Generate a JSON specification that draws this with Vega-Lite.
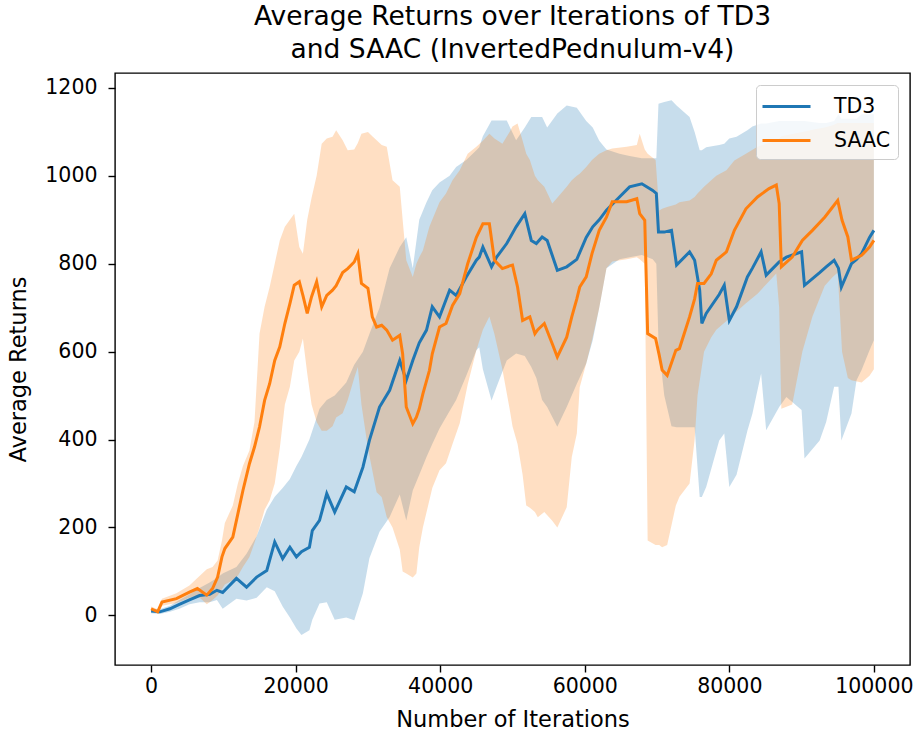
{
  "$schema": "https://vega.github.io/schema/vega-lite/v6.json",
  "autosize": "none",
  "width": 795,
  "height": 592,
  "padding": {"left": 115, "top": 73, "right": 9, "bottom": 71},
  "background": "white",
  "title": {
    "text": ["Average Returns over Iterations of TD3", "and SAAC (InvertedPednulum-v4)"],
    "font": "DejaVu Sans",
    "fontSize": 26.5,
    "fontWeight": "normal",
    "color": "#000000",
    "lineHeight": 33,
    "offset": 10,
    "anchor": "middle",
    "frame": "group"
  },
  "config": {
    "view": {"stroke": "#000000", "strokeWidth": 1.4},
    "axis": {
      "domain": false,
      "grid": false,
      "ticks": true,
      "tickColor": "#000000",
      "tickWidth": 1.4,
      "tickSize": 7,
      "labelFont": "DejaVu Sans",
      "labelFontSize": 20.5,
      "labelColor": "#000000",
      "titleFont": "DejaVu Sans",
      "titleFontSize": 22.5,
      "titleFontWeight": "normal",
      "titleColor": "#000000"
    }
  },
  "datasets": {
    "runs": [
      {"s": "TD3", "x": 0, "m": 10, "lo": 5, "hi": 15},
      {"s": "TD3", "x": 1200, "m": 8, "lo": 3, "hi": 14},
      {"s": "TD3", "x": 2600, "m": 15, "lo": 8, "hi": 22},
      {"s": "TD3", "x": 3900, "m": 25, "lo": 15, "hi": 35},
      {"s": "TD3", "x": 5300, "m": 35, "lo": 25, "hi": 48},
      {"s": "TD3", "x": 6700, "m": 45, "lo": 30, "hi": 62},
      {"s": "TD3", "x": 8100, "m": 48, "lo": 30, "hi": 75},
      {"s": "TD3", "x": 9100, "m": 57, "lo": 35, "hi": 85},
      {"s": "TD3", "x": 9900, "m": 52, "lo": 15, "hi": 95},
      {"s": "TD3", "x": 11800, "m": 84, "lo": 38, "hi": 110},
      {"s": "TD3", "x": 13200, "m": 64, "lo": 34, "hi": 140},
      {"s": "TD3", "x": 14600, "m": 87, "lo": 40, "hi": 180},
      {"s": "TD3", "x": 16000, "m": 102, "lo": 64, "hi": 240},
      {"s": "TD3", "x": 17100, "m": 167, "lo": 55, "hi": 270},
      {"s": "TD3", "x": 18200, "m": 129, "lo": 20, "hi": 290},
      {"s": "TD3", "x": 19200, "m": 155, "lo": -5, "hi": 310},
      {"s": "TD3", "x": 20100, "m": 133, "lo": -30, "hi": 340},
      {"s": "TD3", "x": 20800, "m": 145, "lo": -45, "hi": 360},
      {"s": "TD3", "x": 21900, "m": 155, "lo": -34, "hi": 400},
      {"s": "TD3", "x": 22300, "m": 193, "lo": -10, "hi": 420},
      {"s": "TD3", "x": 23300, "m": 216, "lo": 27, "hi": 470},
      {"s": "TD3", "x": 24300, "m": 277, "lo": 30, "hi": 490},
      {"s": "TD3", "x": 25400, "m": 235, "lo": -10, "hi": 500},
      {"s": "TD3", "x": 27000, "m": 292, "lo": -5, "hi": 530},
      {"s": "TD3", "x": 28100, "m": 281, "lo": -11, "hi": 570},
      {"s": "TD3", "x": 29300, "m": 337, "lo": 50, "hi": 600},
      {"s": "TD3", "x": 30200, "m": 398, "lo": 130, "hi": 640},
      {"s": "TD3", "x": 31600, "m": 474, "lo": 190, "hi": 700},
      {"s": "TD3", "x": 33000, "m": 512, "lo": 224, "hi": 790},
      {"s": "TD3", "x": 34400, "m": 580, "lo": 275, "hi": 838},
      {"s": "TD3", "x": 35300, "m": 535, "lo": 216, "hi": 860},
      {"s": "TD3", "x": 36200, "m": 580, "lo": 284, "hi": 790},
      {"s": "TD3", "x": 37100, "m": 620, "lo": 320, "hi": 900},
      {"s": "TD3", "x": 38100, "m": 649, "lo": 360, "hi": 940},
      {"s": "TD3", "x": 38900, "m": 702, "lo": 390, "hi": 967},
      {"s": "TD3", "x": 39900, "m": 679, "lo": 425, "hi": 985},
      {"s": "TD3", "x": 41300, "m": 740, "lo": 465, "hi": 1000},
      {"s": "TD3", "x": 42200, "m": 728, "lo": 490, "hi": 1020},
      {"s": "TD3", "x": 43600, "m": 770, "lo": 545, "hi": 1036},
      {"s": "TD3", "x": 45000, "m": 808, "lo": 603, "hi": 1058},
      {"s": "TD3", "x": 45400, "m": 815, "lo": 610, "hi": 1065},
      {"s": "TD3", "x": 45900, "m": 838, "lo": 560, "hi": 1090},
      {"s": "TD3", "x": 47100, "m": 793, "lo": 489, "hi": 1126},
      {"s": "TD3", "x": 47800, "m": 815, "lo": 520, "hi": 1126},
      {"s": "TD3", "x": 49200, "m": 846, "lo": 580, "hi": 1126},
      {"s": "TD3", "x": 50500, "m": 884, "lo": 596, "hi": 1081},
      {"s": "TD3", "x": 51700, "m": 914, "lo": 590, "hi": 1110},
      {"s": "TD3", "x": 52600, "m": 853, "lo": 565, "hi": 1134},
      {"s": "TD3", "x": 53300, "m": 846, "lo": 540, "hi": 1134},
      {"s": "TD3", "x": 54100, "m": 861, "lo": 490, "hi": 1134},
      {"s": "TD3", "x": 54800, "m": 853, "lo": 474, "hi": 1110},
      {"s": "TD3", "x": 56200, "m": 785, "lo": 429, "hi": 1142},
      {"s": "TD3", "x": 57500, "m": 793, "lo": 474, "hi": 1160},
      {"s": "TD3", "x": 58900, "m": 810, "lo": 527, "hi": 1155},
      {"s": "TD3", "x": 60200, "m": 860, "lo": 573, "hi": 1125},
      {"s": "TD3", "x": 61100, "m": 884, "lo": 626, "hi": 1110},
      {"s": "TD3", "x": 62000, "m": 900, "lo": 700, "hi": 1080},
      {"s": "TD3", "x": 63000, "m": 922, "lo": 790, "hi": 1060},
      {"s": "TD3", "x": 64800, "m": 952, "lo": 810, "hi": 1050},
      {"s": "TD3", "x": 66200, "m": 975, "lo": 815, "hi": 1045},
      {"s": "TD3", "x": 67900, "m": 982, "lo": 820, "hi": 1040},
      {"s": "TD3", "x": 69400, "m": 967, "lo": 810, "hi": 1040},
      {"s": "TD3", "x": 69900, "m": 960, "lo": 800, "hi": 1040},
      {"s": "TD3", "x": 70200, "m": 872, "lo": 620, "hi": 1164},
      {"s": "TD3", "x": 71000, "m": 872, "lo": 500, "hi": 1168},
      {"s": "TD3", "x": 72000, "m": 876, "lo": 430, "hi": 1172},
      {"s": "TD3", "x": 72700, "m": 797, "lo": 428, "hi": 1160},
      {"s": "TD3", "x": 74500, "m": 827, "lo": 428, "hi": 1134},
      {"s": "TD3", "x": 75200, "m": 808, "lo": 428, "hi": 1100},
      {"s": "TD3", "x": 75900, "m": 740, "lo": 269, "hi": 1058},
      {"s": "TD3", "x": 76200, "m": 664, "lo": 269, "hi": 1058},
      {"s": "TD3", "x": 76800, "m": 687, "lo": 292, "hi": 1065},
      {"s": "TD3", "x": 78600, "m": 730, "lo": 398, "hi": 1070},
      {"s": "TD3", "x": 79300, "m": 751, "lo": 414, "hi": 1073},
      {"s": "TD3", "x": 80000, "m": 671, "lo": 292, "hi": 1085},
      {"s": "TD3", "x": 81000, "m": 702, "lo": 320, "hi": 1089},
      {"s": "TD3", "x": 82500, "m": 770, "lo": 420, "hi": 1104},
      {"s": "TD3", "x": 83200, "m": 790, "lo": 459, "hi": 1112},
      {"s": "TD3", "x": 84400, "m": 827, "lo": 550, "hi": 1119},
      {"s": "TD3", "x": 85100, "m": 774, "lo": 421, "hi": 1119},
      {"s": "TD3", "x": 86900, "m": 804, "lo": 474, "hi": 1125},
      {"s": "TD3", "x": 87900, "m": 815, "lo": 497, "hi": 1125},
      {"s": "TD3", "x": 90000, "m": 827, "lo": 467, "hi": 1125},
      {"s": "TD3", "x": 90400, "m": 751, "lo": 357, "hi": 1125},
      {"s": "TD3", "x": 92500, "m": 780, "lo": 398, "hi": 1120},
      {"s": "TD3", "x": 93400, "m": 793, "lo": 440, "hi": 1120},
      {"s": "TD3", "x": 94500, "m": 808, "lo": 520, "hi": 1125},
      {"s": "TD3", "x": 95100, "m": 790, "lo": 520, "hi": 1140},
      {"s": "TD3", "x": 95500, "m": 747, "lo": 398, "hi": 1130},
      {"s": "TD3", "x": 96900, "m": 800, "lo": 459, "hi": 1130},
      {"s": "TD3", "x": 97600, "m": 810, "lo": 535, "hi": 1130},
      {"s": "TD3", "x": 98300, "m": 823, "lo": 558, "hi": 1140},
      {"s": "TD3", "x": 99400, "m": 860, "lo": 603, "hi": 1140},
      {"s": "TD3", "x": 100000, "m": 876, "lo": 626, "hi": 1140},
      {"s": "SAAC", "x": 0, "m": 15, "lo": 10, "hi": 20},
      {"s": "SAAC", "x": 900, "m": 8, "lo": 4, "hi": 14},
      {"s": "SAAC", "x": 1500, "m": 30, "lo": 22, "hi": 38},
      {"s": "SAAC", "x": 3500, "m": 38, "lo": 28, "hi": 50},
      {"s": "SAAC", "x": 5300, "m": 53, "lo": 40, "hi": 68},
      {"s": "SAAC", "x": 6400, "m": 61, "lo": 45, "hi": 85},
      {"s": "SAAC", "x": 7700, "m": 46, "lo": 25, "hi": 105},
      {"s": "SAAC", "x": 8500, "m": 61, "lo": 35, "hi": 110},
      {"s": "SAAC", "x": 9200, "m": 87, "lo": 45, "hi": 125},
      {"s": "SAAC", "x": 9800, "m": 133, "lo": 60, "hi": 170},
      {"s": "SAAC", "x": 10200, "m": 152, "lo": 70, "hi": 210},
      {"s": "SAAC", "x": 11300, "m": 178, "lo": 80, "hi": 250},
      {"s": "SAAC", "x": 12000, "m": 231, "lo": 90, "hi": 300},
      {"s": "SAAC", "x": 12700, "m": 284, "lo": 110, "hi": 340},
      {"s": "SAAC", "x": 13600, "m": 345, "lo": 133, "hi": 375},
      {"s": "SAAC", "x": 14300, "m": 383, "lo": 165, "hi": 440},
      {"s": "SAAC", "x": 15000, "m": 429, "lo": 200, "hi": 641},
      {"s": "SAAC", "x": 15700, "m": 489, "lo": 240, "hi": 702},
      {"s": "SAAC", "x": 16400, "m": 527, "lo": 262, "hi": 747},
      {"s": "SAAC", "x": 17100, "m": 580, "lo": 300, "hi": 800},
      {"s": "SAAC", "x": 17800, "m": 611, "lo": 380, "hi": 853},
      {"s": "SAAC", "x": 18500, "m": 664, "lo": 480, "hi": 884},
      {"s": "SAAC", "x": 19200, "m": 709, "lo": 520, "hi": 900},
      {"s": "SAAC", "x": 19800, "m": 751, "lo": 580, "hi": 914},
      {"s": "SAAC", "x": 20500, "m": 759, "lo": 600, "hi": 838},
      {"s": "SAAC", "x": 21000, "m": 728, "lo": 630, "hi": 823},
      {"s": "SAAC", "x": 21600, "m": 687, "lo": 550, "hi": 900},
      {"s": "SAAC", "x": 22200, "m": 725, "lo": 480, "hi": 950},
      {"s": "SAAC", "x": 22900, "m": 759, "lo": 440, "hi": 1000},
      {"s": "SAAC", "x": 23600, "m": 702, "lo": 420, "hi": 1073},
      {"s": "SAAC", "x": 24300, "m": 728, "lo": 420, "hi": 1085},
      {"s": "SAAC", "x": 25100, "m": 740, "lo": 430, "hi": 1089},
      {"s": "SAAC", "x": 25600, "m": 750, "lo": 450, "hi": 1104},
      {"s": "SAAC", "x": 26500, "m": 780, "lo": 460, "hi": 1081},
      {"s": "SAAC", "x": 27200, "m": 789, "lo": 490, "hi": 1058},
      {"s": "SAAC", "x": 28100, "m": 804, "lo": 540, "hi": 1060},
      {"s": "SAAC", "x": 28600, "m": 823, "lo": 565, "hi": 1075},
      {"s": "SAAC", "x": 29100, "m": 755, "lo": 480, "hi": 1096},
      {"s": "SAAC", "x": 30000, "m": 744, "lo": 380, "hi": 1100},
      {"s": "SAAC", "x": 30600, "m": 679, "lo": 330, "hi": 1090},
      {"s": "SAAC", "x": 31200, "m": 656, "lo": 280, "hi": 1081},
      {"s": "SAAC", "x": 31900, "m": 660, "lo": 269, "hi": 1070},
      {"s": "SAAC", "x": 32600, "m": 649, "lo": 224, "hi": 1066},
      {"s": "SAAC", "x": 33400, "m": 626, "lo": 200, "hi": 990},
      {"s": "SAAC", "x": 34400, "m": 637, "lo": 150, "hi": 975},
      {"s": "SAAC", "x": 34800, "m": 595, "lo": 100, "hi": 900},
      {"s": "SAAC", "x": 35300, "m": 474, "lo": 95, "hi": 808},
      {"s": "SAAC", "x": 36200, "m": 436, "lo": 86, "hi": 770},
      {"s": "SAAC", "x": 36700, "m": 451, "lo": 95, "hi": 800},
      {"s": "SAAC", "x": 37100, "m": 470, "lo": 155, "hi": 815},
      {"s": "SAAC", "x": 37600, "m": 504, "lo": 200, "hi": 830},
      {"s": "SAAC", "x": 38500, "m": 557, "lo": 262, "hi": 884},
      {"s": "SAAC", "x": 38900, "m": 595, "lo": 290, "hi": 900},
      {"s": "SAAC", "x": 39900, "m": 656, "lo": 330, "hi": 940},
      {"s": "SAAC", "x": 40800, "m": 664, "lo": 346, "hi": 960},
      {"s": "SAAC", "x": 41700, "m": 705, "lo": 390, "hi": 990},
      {"s": "SAAC", "x": 42700, "m": 732, "lo": 437, "hi": 1013},
      {"s": "SAAC", "x": 43800, "m": 800, "lo": 525, "hi": 1050},
      {"s": "SAAC", "x": 45000, "m": 860, "lo": 603, "hi": 1066},
      {"s": "SAAC", "x": 45900, "m": 891, "lo": 650, "hi": 1080},
      {"s": "SAAC", "x": 46800, "m": 891, "lo": 680, "hi": 1096},
      {"s": "SAAC", "x": 47500, "m": 808, "lo": 640, "hi": 1085},
      {"s": "SAAC", "x": 48600, "m": 789, "lo": 560, "hi": 1073},
      {"s": "SAAC", "x": 49600, "m": 795, "lo": 470, "hi": 1100},
      {"s": "SAAC", "x": 50000, "m": 797, "lo": 430, "hi": 1112},
      {"s": "SAAC", "x": 50700, "m": 747, "lo": 390, "hi": 1119},
      {"s": "SAAC", "x": 51400, "m": 671, "lo": 320, "hi": 1080},
      {"s": "SAAC", "x": 51900, "m": 675, "lo": 250, "hi": 1050},
      {"s": "SAAC", "x": 52400, "m": 679, "lo": 245, "hi": 1036},
      {"s": "SAAC", "x": 53100, "m": 641, "lo": 235, "hi": 1000},
      {"s": "SAAC", "x": 53500, "m": 650, "lo": 223, "hi": 990},
      {"s": "SAAC", "x": 54400, "m": 664, "lo": 235, "hi": 975},
      {"s": "SAAC", "x": 55500, "m": 618, "lo": 215, "hi": 937},
      {"s": "SAAC", "x": 56200, "m": 588, "lo": 200, "hi": 950},
      {"s": "SAAC", "x": 57500, "m": 633, "lo": 246, "hi": 975},
      {"s": "SAAC", "x": 58200, "m": 679, "lo": 360, "hi": 990},
      {"s": "SAAC", "x": 58900, "m": 720, "lo": 414, "hi": 1000},
      {"s": "SAAC", "x": 59300, "m": 747, "lo": 519, "hi": 1005},
      {"s": "SAAC", "x": 60200, "m": 770, "lo": 573, "hi": 1020},
      {"s": "SAAC", "x": 61000, "m": 823, "lo": 626, "hi": 1036},
      {"s": "SAAC", "x": 62000, "m": 876, "lo": 700, "hi": 1050},
      {"s": "SAAC", "x": 63000, "m": 906, "lo": 790, "hi": 1058},
      {"s": "SAAC", "x": 63800, "m": 941, "lo": 805, "hi": 1062},
      {"s": "SAAC", "x": 65800, "m": 941, "lo": 810, "hi": 1066},
      {"s": "SAAC", "x": 67200, "m": 948, "lo": 815, "hi": 1070},
      {"s": "SAAC", "x": 67600, "m": 914, "lo": 810, "hi": 1096},
      {"s": "SAAC", "x": 68300, "m": 899, "lo": 800, "hi": 1060},
      {"s": "SAAC", "x": 68700, "m": 641, "lo": 170, "hi": 1050},
      {"s": "SAAC", "x": 69800, "m": 630, "lo": 160, "hi": 1036},
      {"s": "SAAC", "x": 70300, "m": 592, "lo": 160, "hi": 921},
      {"s": "SAAC", "x": 70700, "m": 558, "lo": 155, "hi": 925},
      {"s": "SAAC", "x": 71400, "m": 546, "lo": 160, "hi": 929},
      {"s": "SAAC", "x": 72600, "m": 603, "lo": 250, "hi": 935},
      {"s": "SAAC", "x": 73100, "m": 607, "lo": 270, "hi": 940},
      {"s": "SAAC", "x": 74500, "m": 679, "lo": 300, "hi": 944},
      {"s": "SAAC", "x": 75200, "m": 720, "lo": 400, "hi": 952},
      {"s": "SAAC", "x": 75600, "m": 755, "lo": 500, "hi": 960},
      {"s": "SAAC", "x": 76500, "m": 755, "lo": 600, "hi": 975},
      {"s": "SAAC", "x": 77500, "m": 777, "lo": 633, "hi": 990},
      {"s": "SAAC", "x": 78200, "m": 808, "lo": 650, "hi": 1000},
      {"s": "SAAC", "x": 79600, "m": 827, "lo": 670, "hi": 1013},
      {"s": "SAAC", "x": 80700, "m": 876, "lo": 687, "hi": 1035},
      {"s": "SAAC", "x": 82300, "m": 925, "lo": 710, "hi": 1050},
      {"s": "SAAC", "x": 83900, "m": 952, "lo": 732, "hi": 1066},
      {"s": "SAAC", "x": 85500, "m": 971, "lo": 760, "hi": 1075},
      {"s": "SAAC", "x": 86500, "m": 979, "lo": 778, "hi": 1080},
      {"s": "SAAC", "x": 86900, "m": 937, "lo": 700, "hi": 1085},
      {"s": "SAAC", "x": 87200, "m": 793, "lo": 470, "hi": 1090},
      {"s": "SAAC", "x": 88700, "m": 815, "lo": 480, "hi": 1095},
      {"s": "SAAC", "x": 90100, "m": 853, "lo": 600, "hi": 1100},
      {"s": "SAAC", "x": 91500, "m": 876, "lo": 680, "hi": 1105},
      {"s": "SAAC", "x": 93200, "m": 906, "lo": 750, "hi": 1110},
      {"s": "SAAC", "x": 94300, "m": 929, "lo": 770, "hi": 1115},
      {"s": "SAAC", "x": 95000, "m": 944, "lo": 780, "hi": 1120},
      {"s": "SAAC", "x": 95600, "m": 899, "lo": 600, "hi": 1120},
      {"s": "SAAC", "x": 96400, "m": 861, "lo": 540, "hi": 1120},
      {"s": "SAAC", "x": 96900, "m": 808, "lo": 535, "hi": 1120},
      {"s": "SAAC", "x": 98300, "m": 819, "lo": 530, "hi": 1120},
      {"s": "SAAC", "x": 99400, "m": 838, "lo": 545, "hi": 1120},
      {"s": "SAAC", "x": 100000, "m": 853, "lo": 560, "hi": 1120}
    ]
  },
  "data": {"name": "runs"},
  "encoding": {
    "x": {"field": "x", "type": "quantitative", "scale": {"domain": [-5000, 105000], "nice": false, "zero": false},
          "axis": {"title": "Number of Iterations", "values": [0, 20000, 40000, 60000, 80000, 100000], "format": "d", "labelPadding": 4, "titlePadding": 12}},
    "color": {"field": "s", "type": "nominal", "sort": ["TD3", "SAAC"],
              "scale": {"domain": ["TD3", "SAAC"], "range": ["#1f77b4", "#ff7f0e"]},
              "legend": {"title": null, "orient": "top-right", "offset": 12, "fillColor": "rgba(255,255,255,0.8)", "strokeColor": "#cccccc", "cornerRadius": 4, "padding": 8, "labelFont": "DejaVu Sans", "labelFontSize": 20.5, "labelColor": "#000000", "symbolType": "M-1.25,0H2.75", "symbolSize": 576, "symbolStrokeWidth": 3, "symbolOpacity": 1, "symbolFillColor": "transparent", "labelOffset": 43, "rowPadding": 10}}
  },
  "layer": [
    {
      "mark": {"type": "area", "opacity": 0.25, "interpolate": "linear"},
      "encoding": {
        "y": {"field": "lo", "type": "quantitative", "scale": {"domain": [-113, 1234], "nice": false, "zero": false},
              "axis": {"title": "Average Returns", "values": [0, 200, 400, 600, 800, 1000, 1200], "format": "d", "labelPadding": 11, "titlePadding": 14}},
        "y2": {"field": "hi"}
      }
    },
    {
      "mark": {"type": "line", "strokeWidth": 3, "interpolate": "linear"},
      "encoding": {
        "y": {"field": "m", "type": "quantitative"}
      }
    }
  ]
}
